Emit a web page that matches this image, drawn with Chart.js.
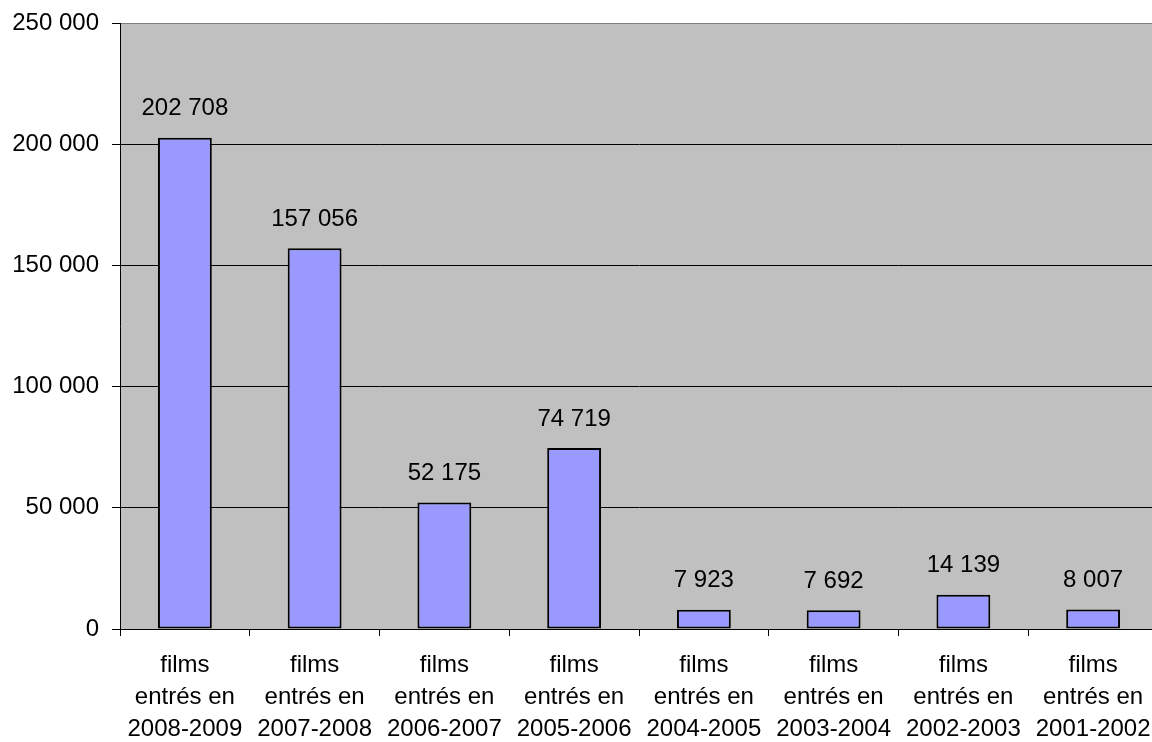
<!DOCTYPE html>
<html>
<head>
<meta charset="utf-8">
<script src="https://cdn.jsdelivr.net/npm/chart.js@4/dist/chart.umd.min.js"></script>
<style>
    html, body { margin: 0; padding: 0; background: #fff; overflow: hidden; }
    /* the plot area runs a few pixels past the right edge of the picture */
    #wrap { width: 1158px; height: 742px; }
</style>
</head>
<body>
<div id="wrap"><canvas id="filmsChart"></canvas></div>
<script>
// Data
const categories = [
    ['films', 'entrés en', '2008-2009'],
    ['films', 'entrés en', '2007-2008'],
    ['films', 'entrés en', '2006-2007'],
    ['films', 'entrés en', '2005-2006'],
    ['films', 'entrés en', '2004-2005'],
    ['films', 'entrés en', '2003-2004'],
    ['films', 'entrés en', '2002-2003'],
    ['films', 'entrés en', '2001-2002']
];
const entries = [202708, 157056, 52175, 74719, 7923, 7692, 14139, 8007];
const yTicks = [0, 50000, 100000, 150000, 200000, 250000];

const FONT = '"Liberation Sans", Arial, sans-serif';

function formatNumber(value) {
    return String(value).replace(/\B(?=(\d{3})+(?!\d))/g, ' ');
}

// gray plot area behind the bars
const plotBackground = {
    id: 'plotBackground',
    beforeDraw(chart) {
        const { ctx, chartArea } = chart;
        ctx.save();
        ctx.fillStyle = '#C0C0C0';
        ctx.fillRect(chartArea.left, chartArea.top, chartArea.right - chartArea.left, chartArea.bottom - chartArea.top);
        ctx.restore();
    }
};

// value labels above each bar
const barLabels = {
    id: 'barLabels',
    afterDatasetsDraw(chart) {
        const { ctx } = chart;
        const meta = chart.getDatasetMeta(0);
        ctx.save();
        ctx.fillStyle = '#000';
        ctx.font = '24px ' + FONT;
        ctx.textAlign = 'center';
        ctx.textBaseline = 'bottom';
        meta.data.forEach((bar, i) => {
            ctx.fillText(formatNumber(entries[i]), bar.x, bar.y - 17);
        });
        ctx.restore();
    }
};

const ctx = document.getElementById('filmsChart').getContext('2d');
const filmsChart = new Chart(ctx, {
    type: 'bar',
    data: {
        labels: categories,
        datasets: [{
            data: entries,
            backgroundColor: '#9999FF',
            borderColor: '#000',
            borderWidth: 2,
            borderSkipped: false,
            categoryPercentage: 1,
            barPercentage: 0.415
        }]
    },
    options: {
        responsive: true,
        maintainAspectRatio: false,
        animation: false,
        devicePixelRatio: 1,
        layout: {
            padding: { top: 23, right: 0, left: 0, bottom: 0 }
        },
        plugins: {
            legend: { display: false },
            tooltip: { enabled: false }
        },
        scales: {
            x: {
                offset: true,
                afterFit(scale) {
                    scale.height = 113;
                    scale.paddingLeft = 0;
                    scale.paddingRight = 0;
                },
                grid: {
                    offset: true,
                    drawOnChartArea: false,
                    tickLength: 7,
                    tickColor: '#000'
                },
                border: { display: true, color: '#000', width: 1 },
                ticks: {
                    color: '#000',
                    padding: 13,
                    maxRotation: 0,
                    autoSkip: false,
                    font: { family: FONT, size: 24, lineHeight: 1.34 }
                }
            },
            y: {
                min: 0,
                max: 250000,
                afterFit(scale) {
                    scale.width = 120;
                    scale.paddingTop = 0;
                    scale.paddingBottom = 0;
                },
                afterBuildTicks(scale) {
                    scale.ticks = yTicks.map((v) => ({ value: v }));
                },
                grid: {
                    color: (c) => (c.tick && c.tick.value === 250000 ? '#808080' : '#000'),
                    lineWidth: 1,
                    tickLength: 8,
                    tickColor: '#000'
                },
                border: { display: true, color: '#000', width: 1 },
                ticks: {
                    color: '#000',
                    padding: 13,
                    font: { family: FONT, size: 24 },
                    callback: (value) => formatNumber(value)
                }
            }
        }
    },
    plugins: [plotBackground, barLabels]
});
</script>
</body>
</html>
